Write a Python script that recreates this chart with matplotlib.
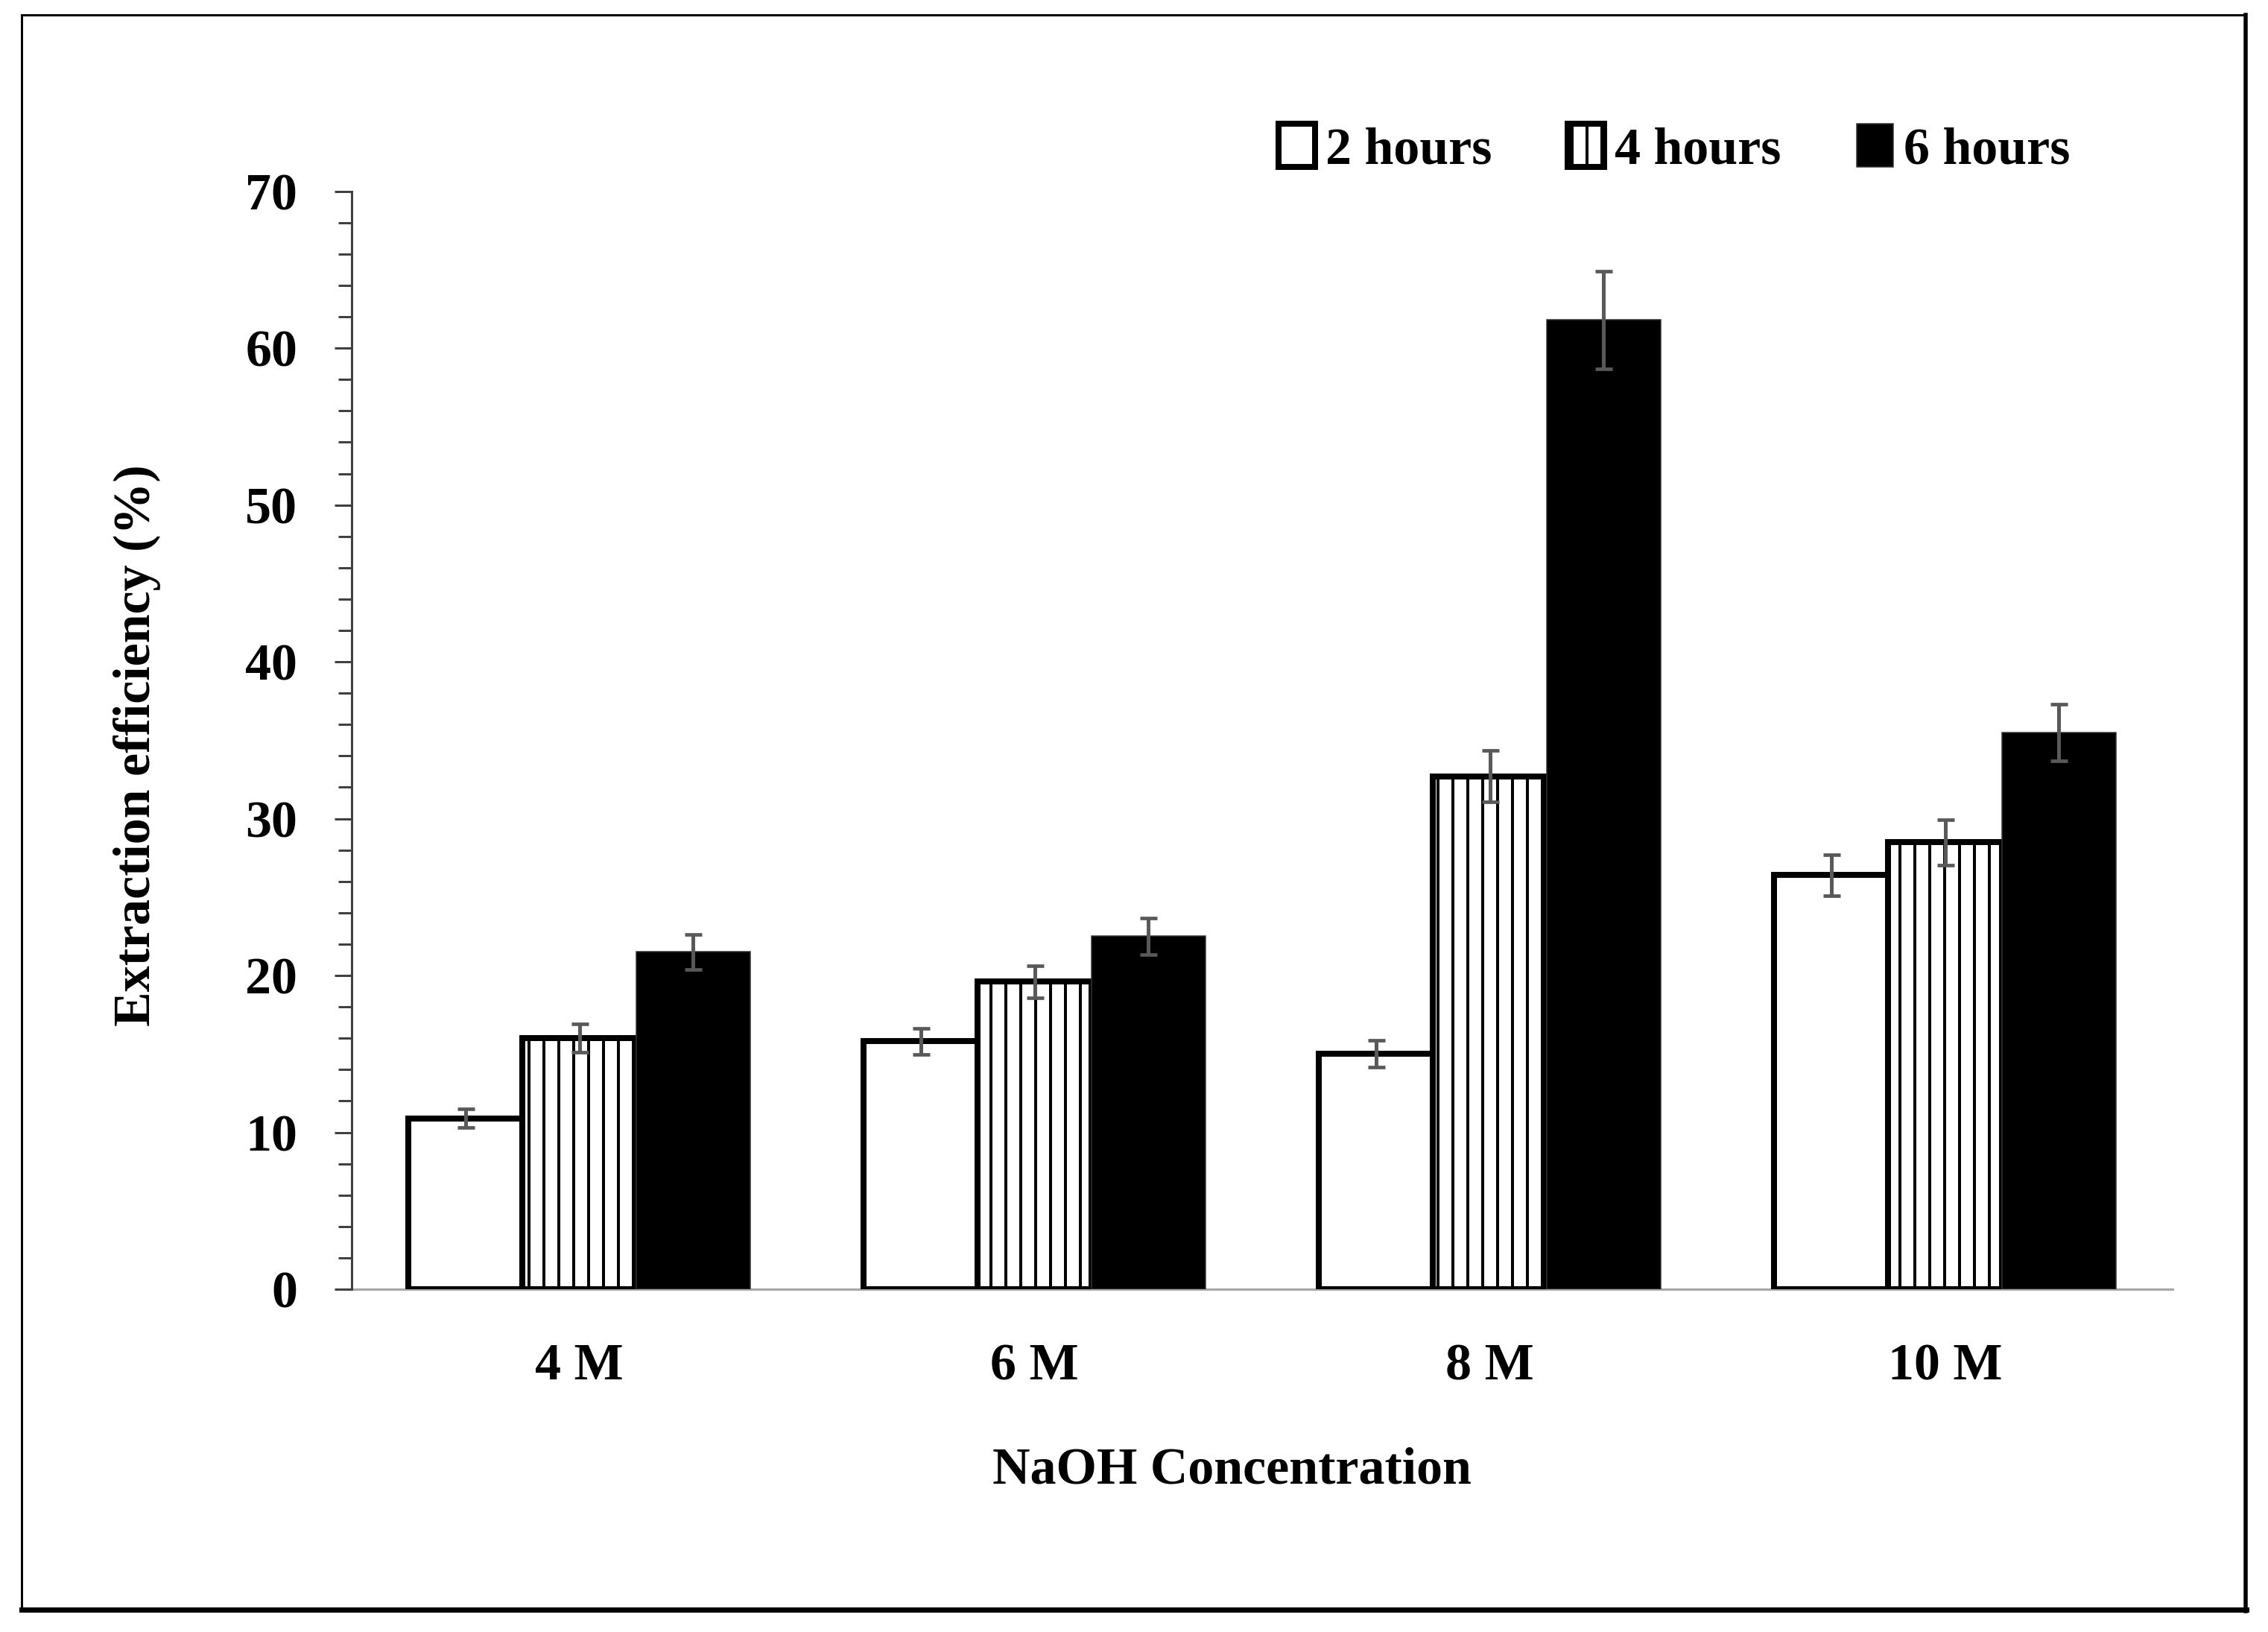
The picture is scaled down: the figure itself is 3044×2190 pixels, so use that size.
import numpy as np
import matplotlib
matplotlib.use("Agg")
import matplotlib.pyplot as plt
from matplotlib.patches import Rectangle
from matplotlib.lines import Line2D
from matplotlib.ticker import MultipleLocator

# ---------------- data ----------------
concentrations = ["4 M", "6 M", "8 M", "10 M"]
series_names = ["2 hours", "4 hours", "6 hours"]

eff_2h = [10.9, 15.8, 15.0, 26.4]
eff_4h = [16.0, 19.6, 32.7, 28.5]
eff_6h = [21.5, 22.5, 61.8, 35.5]

err_2h = [0.6, 0.85, 0.85, 1.3]
err_4h = [0.9, 1.0, 1.65, 1.45]
err_6h = [1.1, 1.15, 3.1, 1.8]

# ---------------- style ----------------
W, H, DPI = 3044, 2190, 120


def pt(px):
    # pixel size -> points at the output dpi
    return px * 72 / DPI


plt.rcParams["font.family"] = ["Liberation Serif", "DejaVu Serif"]
plt.rcParams["font.weight"] = "bold"
plt.rcParams["hatch.linewidth"] = pt(4)
plt.rcParams["hatch.color"] = "#222222"

FS = pt(70)

fig = plt.figure(figsize=(W / DPI, H / DPI), dpi=DPI)
ax = fig.add_axes([472 / W, 1 - 1730 / H, (2916 - 472) / W, (1730 - 256.7) / H])

x = np.arange(len(concentrations))
bw = 0.25
err_kw = dict(ecolor="#595959", elinewidth=pt(5), capsize=pt(11.5), capthick=pt(4.7))

b2 = ax.bar(x - bw, eff_2h, bw, color="white", edgecolor="black", linewidth=pt(8),
            yerr=err_2h, error_kw=err_kw, zorder=2, label=series_names[0])
b4 = ax.bar(x, eff_4h, bw, color="white", edgecolor="black", linewidth=pt(8), hatch="|",
            yerr=err_4h, error_kw=err_kw, zorder=3, label=series_names[1])
b6 = ax.bar(x + bw, eff_6h, bw, color="black", edgecolor="#333333", linewidth=pt(1.5),
            yerr=err_6h, error_kw=err_kw, zorder=4, label=series_names[2])

ax.set_xlim(-0.5, len(concentrations) - 0.5)
ax.set_ylim(0, 70)
ax.yaxis.set_major_locator(MultipleLocator(10))
ax.yaxis.set_minor_locator(MultipleLocator(2))
ax.set_xticks(x)
ax.set_xticklabels(concentrations, fontsize=FS, fontweight="bold")
ax.tick_params(axis="x", length=0, pad=pt(72))
ax.tick_params(axis="y", which="major", length=pt(23), width=pt(3), color="#404040",
               labelsize=FS, pad=pt(50))
ax.tick_params(axis="y", which="minor", length=pt(18), width=pt(3), color="#404040")
for lab in ax.get_yticklabels():
    lab.set_fontweight("bold")

for s in ["top", "right"]:
    ax.spines[s].set_visible(False)
ax.spines["left"].set_color("#404040")
ax.spines["left"].set_linewidth(pt(3))
ax.spines["bottom"].set_color("#A6A6A6")
ax.spines["bottom"].set_linewidth(pt(3))
ax.spines["bottom"].set_zorder(1)

ax.set_xlabel("NaOH Concentration", fontsize=FS, fontweight="bold", va="center")
ax.xaxis.set_label_coords(0.4836, -0.1656)
ax.set_ylabel("Extraction efficiency (%)", fontsize=FS, fontweight="bold", va="center")
ax.yaxis.set_label_coords(-0.1178, 0.4955)

leg = fig.legend(handles=[b2, b4, b6], loc="center", ncol=3, frameon=False,
                 bbox_to_anchor=(2247 / W, 1 - 200 / H),
                 prop={"weight": "bold", "size": FS},
                 handlelength=0.7, handleheight=0.9, handletextpad=0.2,
                 columnspacing=1.45)

# outer frame with shadow on right / bottom
fig.patches.append(Rectangle((29 / W, 1 - 2159 / H), (3013 - 29) / W, (2159 - 20) / H,
                             transform=fig.transFigure, fill=False,
                             edgecolor="black", linewidth=pt(3)))
fig.lines.append(Line2D([29 / W, 3015 / W], [1 - 2160 / H, 1 - 2160 / H],
                        transform=fig.transFigure, color="black", linewidth=pt(7)))
fig.lines.append(Line2D([3014 / W, 3014 / W], [1 - 2162 / H, 1 - 20 / H],
                        transform=fig.transFigure, color="black", linewidth=pt(5.5)))

fig.savefig("out.png", dpi=DPI, facecolor="white")
